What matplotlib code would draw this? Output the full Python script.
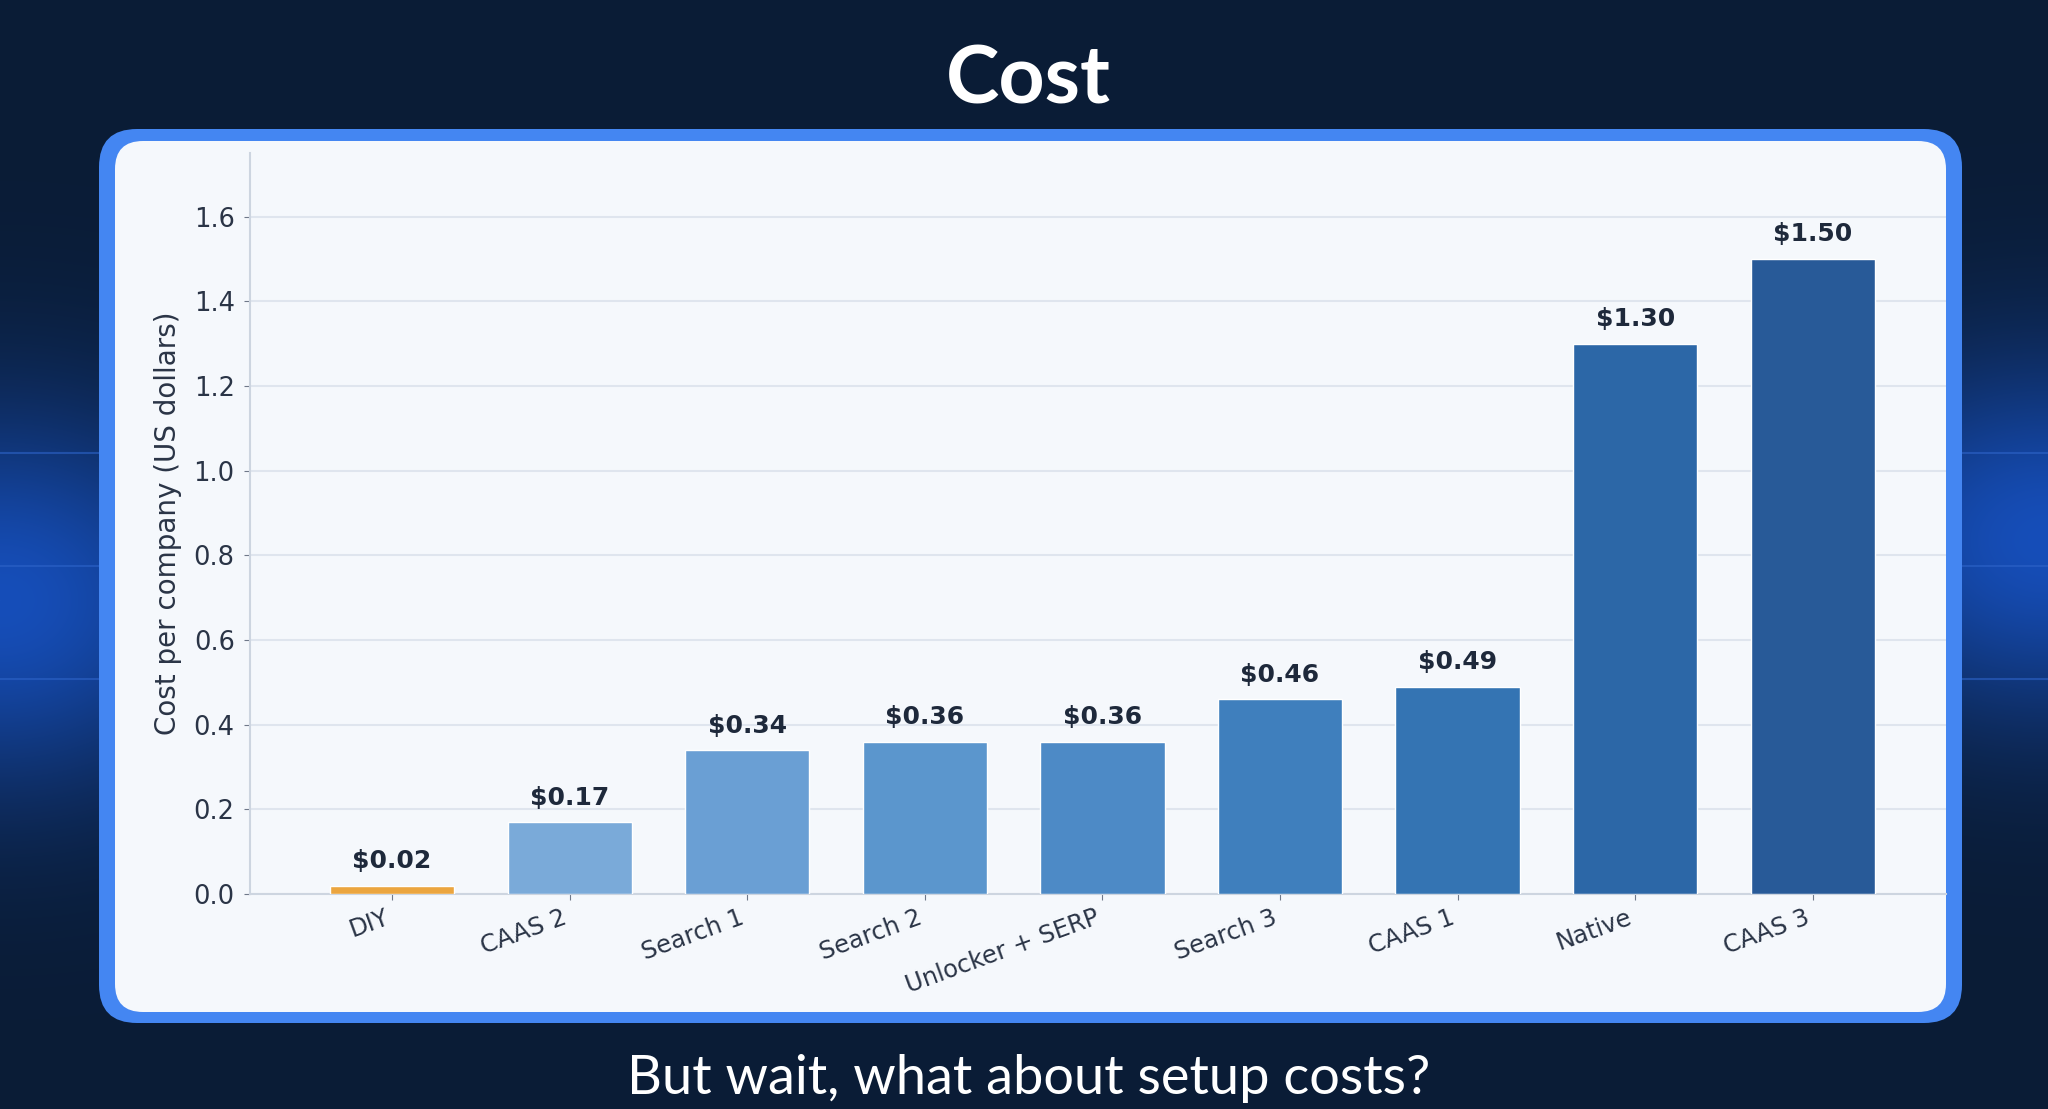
import numpy as np
import matplotlib.pyplot as plt
from matplotlib.patches import FancyBboxPatch

categories = ['DIY', 'CAAS 2', 'Search 1', 'Search 2', 'Unlocker + SERP',
              'Search 3', 'CAAS 1', 'Native', 'CAAS 3']
costs = [0.02, 0.17, 0.34, 0.36, 0.36, 0.46, 0.49, 1.30, 1.50]
bar_colors = ['#eba53f', '#7aaad9', '#6a9fd4', '#5b96cd', '#4d8ac6',
              '#3f7fbd', '#3474b3', '#2c67a7', '#285a98']
yticks = [0.0, 0.2, 0.4, 0.6, 0.8, 1.0, 1.2, 1.4, 1.6]

W, H = 2048, 1109
fig = plt.figure(figsize=(W / 100, H / 100), dpi=100)

# slide background, drawn in pixel coords
bg = fig.add_axes([0, 0, 1, 1])
bg.set_xlim(0, W)
bg.set_ylim(H, 0)
bg.axis('off')
yy, xx = np.mgrid[0:H, 0:W]
base = np.array([10, 28, 54]) / 255
glow = np.array([22, 78, 185]) / 255
g = (np.exp(-((xx / 240) ** 2 + ((yy - 600) / 190) ** 2))
     + np.exp(-(((W - xx) / 240) ** 2 + ((yy - 540) / 180) ** 2)))
g = np.clip(g, 0, 1)[..., None]
bg.imshow(base * (1 - g) + glow * g, extent=(0, W, H, 0), aspect='auto', zorder=0)
for y in (453, 566, 679):
    bg.plot([0, W], [y, y], color='#2d63c8', lw=1.5, alpha=0.6, zorder=1)

bg.add_patch(FancyBboxPatch((99, 129), 1962 - 99, 1023 - 129,
                            boxstyle='round,pad=0,rounding_size=38',
                            fc='#4486f2', ec='none', zorder=2))
bg.add_patch(FancyBboxPatch((115, 141), 1946 - 115, 1012 - 141,
                            boxstyle='round,pad=0,rounding_size=28',
                            fc='#f5f8fc', ec='none', zorder=3))

bg.text(W / 2 + 4, 81, 'Cost', ha='center', va='center', fontsize=58,
        weight='bold', color='white', family='Lato')
bg.text(W / 2 + 5, 1094, 'But wait, what about setup costs?', ha='center',
        va='baseline', fontsize=39, color='white', family='Lato')

# chart
ax = fig.add_axes([250 / W, 1 - 894 / H, (1946 - 250) / W, (894 - 153) / H])
ax.set_facecolor('none')
x = np.arange(len(categories))
ax.bar(x, costs, width=0.7, color=bar_colors, edgecolor='white', linewidth=1, zorder=3)
for xi, v in zip(x, costs):
    ax.annotate(f'\\${v:.2f}', (xi, v), xytext=(0, 9), textcoords='offset points',
                ha='center', va='bottom', fontsize=18, weight='bold', color='#1e293b')

ax.set_xlim(-0.8, 8.75)
ax.set_ylim(0, 1.75)
ax.set_yticks(yticks)
ax.set_xticks(x)
ax.set_xticklabels(categories, rotation=20, ha='right', fontsize=17.5)
ax.tick_params(axis='both', labelcolor='#2a3446', color='#6f7889', length=4.5)
ax.tick_params(axis='y', labelsize=18.5, pad=6.5)
ax.set_ylabel('Cost per company (US dollars)', fontsize=20, color='#2a3446', labelpad=8)
ax.grid(axis='y', color='#dfe5ee', lw=1.5)
ax.set_axisbelow(True)
for s in ('top', 'right'):
    ax.spines[s].set_visible(False)
for s in ('left', 'bottom'):
    ax.spines[s].set_color('#cdd5e0')
    ax.spines[s].set_linewidth(1.5)

fig.savefig('out.png', dpi=100)
